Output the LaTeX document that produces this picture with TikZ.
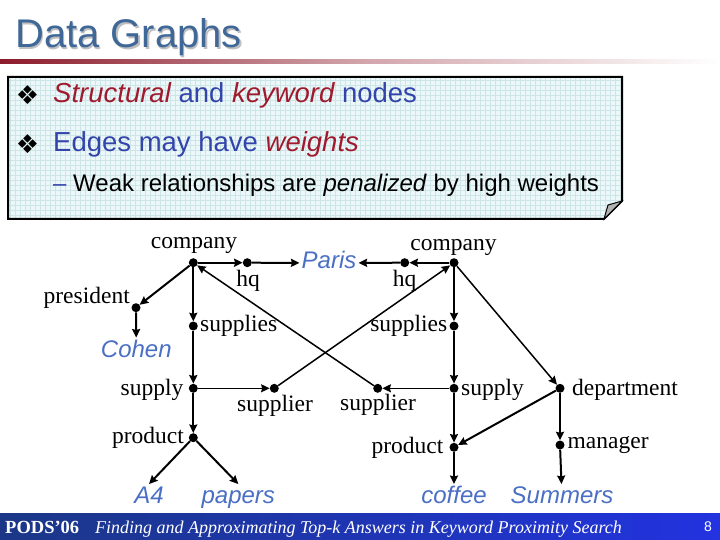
\documentclass[tikz,border=0pt]{standalone}
\usepackage{fontspec}
\setmainfont{Liberation Serif}
\newfontfamily\arialf{Liberation Sans}
\newfontfamily\djv{DejaVu Sans}
\usetikzlibrary{arrows.meta}
\definecolor{titleblue}{HTML}{3F6898}
\definecolor{txtblue}{HTML}{3344AA}
\definecolor{txtred}{HTML}{A01A2E}
\definecolor{kwblue}{HTML}{4A6FC4}
\definecolor{boxfill}{HTML}{EBF7F8}
\definecolor{gridc}{HTML}{CDE5E7}
\definecolor{barL}{HTML}{1B3786}
\definecolor{barR}{HTML}{2233E0}
\definecolor{lineRed}{HTML}{8C1B2B}
\begin{document}
\begin{tikzpicture}[x=1pt,y=-1pt,
  dot/.style={circle,fill=black,inner sep=0pt,minimum size=9pt},
  lab/.style={inner sep=0pt,font=\fontsize{23.5}{26}\selectfont},
  kw/.style={inner sep=2pt,text=kwblue,font=\arialf\itshape\fontsize{24}{28}\selectfont,text height=17.5pt,text depth=6pt},
  edge/.style={line width=2pt,-{Stealth[length=8.5pt,width=8pt,inset=1pt]}},
  thin edge/.style={edge,line width=1.5pt},
  bul/.style={font=\djv\fontsize{26}{26}\selectfont},
  boxtext/.style={anchor=base west,inner sep=0pt,font=\arialf\fontsize{27.5}{30}\selectfont},
]
\useasboundingbox (0,0) rectangle (720,540);
\fill[white] (0,0) rectangle (720,540);

% title
\node[anchor=base west,inner sep=0pt,text=black!25,font=\arialf\fontsize{40}{44}\selectfont] (tshadow) at (16.5,49.5) {Data Graphs};
\node[anchor=base west,inner sep=0pt,text=titleblue,font=\arialf\fontsize{40}{44}\selectfont] (title) at (15,48) {Data Graphs};
\shade[left color=lineRed, right color=white, middle color=lineRed!40] (0,60) rectangle (720,64);

% box
\fill[boxfill] (8,77) -- (622,77) -- (622,201) -- (604,219) -- (8,219) -- cycle;
\begin{scope}
\clip (8,77) -- (622,77) -- (622,201) -- (604,219) -- (8,219) -- cycle;
\draw[gridc,line width=0.4pt] (0,75) grid[step=5pt] (625,220);
\end{scope}
\draw[line width=2pt,line join=miter] (8,77) -- (622,77) -- (622,201) -- (604,219) -- (8,219) -- cycle;
\filldraw[fill=black!30,line width=1pt] (604,219) -- (608,205) -- (622,201) -- cycle;

\node[bul] (b1) at (27.5,95.5) {❖};
\node[boxtext] (t1) at (53,103) {\textcolor{txtred}{\itshape Structural} \textcolor{txtblue}{and} \textcolor{txtred}{\itshape keyword} \textcolor{txtblue}{nodes}};
\node[bul] (b2) at (27.5,144) {❖};
\node[boxtext] (t2) at (53,151.7) {\textcolor{txtblue}{Edges may have} \textcolor{txtred}{\itshape weights}};
\node[boxtext,font=\arialf\fontsize{24}{26}\selectfont] (t3) at (53,192) {\textcolor{txtblue}{–} Weak relationships are \textit{penalized} by high weights};

% graph nodes
\node[dot] (cL) at (193.3,262.7) {};
\node[dot] (hqL) at (247.3,262.7) {};
\node[dot] (hqR) at (404.7,262.7) {};
\node[dot] (cR) at (454,262.7) {};
\node[dot] (pres) at (136,307.7) {};
\node[dot] (spsL) at (193.3,326) {};
\node[dot] (spsR) at (454,326) {};
\node[dot] (spyL) at (193.3,388.3) {};
\node[dot] (suprL) at (274.3,388.3) {};
\node[dot] (suprR) at (377.7,388.3) {};
\node[dot] (spyR) at (454,388.3) {};
\node[dot] (dept) at (560,388.3) {};
\node[dot] (prodL) at (193.3,437.7) {};
\node[dot] (prodR) at (454,447.3) {};
\node[dot] (mgr) at (560,445) {};

% labels
\node[lab,anchor=base] (lcL) at (194,248) {company};
\node[lab,anchor=base] (lcR) at (453.5,250) {company};
\node[lab,anchor=base] (lhqL) at (248,286) {hq};
\node[lab,anchor=base] (lhqR) at (404.5,286) {hq};
\node[lab,anchor=base east] (lpres) at (130,303.3) {president};
\node[lab,anchor=base west] (lspsL) at (200,331.7) {supplies};
\node[lab,anchor=base east] (lspsR) at (447.5,331.7) {supplies};
\node[lab,anchor=base east] (lspyL) at (183.5,395) {supply};
\node[lab,anchor=base west] (lspyR) at (461,395) {supply};
\node[lab,anchor=base] (lsuprL) at (275,411.5) {supplier};
\node[lab,anchor=base] (lsuprR) at (378,410) {supplier};
\node[lab,anchor=base west] (ldept) at (572,395.5) {department};
\node[lab,anchor=base east] (lprodL) at (184,443.3) {product};
\node[lab,anchor=base east] (lprodR) at (443.5,453.3) {product};
\node[lab,anchor=base west] (lmgr) at (567.5,448.5) {manager};

% keywords
\node[kw] (paris) at (329,263) {Paris};
\node[kw] (cohen) at (136.3,351.5) {Cohen};
\node[kw] (a4) at (149,498) {A4};
\node[kw] (papers) at (238.3,498) {papers};
\node[kw] (coffee) at (454,498) {coffee};
\node[kw] (summers) at (562,498) {Summers};

% edges
\draw[edge] (cL) -- (hqL);
\draw[edge] (hqL) -- (paris);
\draw[edge] (cR) -- (hqR);
\draw[edge] (hqR) -- (paris);
\draw[edge] (cL) -- (pres);
\draw[edge] (pres) -- (cohen);
\draw[edge] (cL) -- (spsL);
\draw[edge] (spsL) -- (spyL);
\draw[thin edge] (spyL) -- (suprL);
\draw[edge] (spyL) -- (prodL);
\draw[edge] (prodL) -- (a4.north);
\draw[edge] (prodL) -- (papers.north);
\draw[thin edge] (suprL) -- (cR);
\draw[thin edge] (suprR) -- (cL);
\draw[edge] (cR) -- (spsR);
\draw[edge] (spsR) -- (spyR);
\draw[thin edge] (spyR) -- (suprR);
\draw[edge] (spyR) -- (prodR);
\draw[edge] (prodR) -- (coffee);
\draw[thin edge] (cR) -- (dept);
\draw[edge] (dept) -- (prodR);
\draw[edge] (dept) -- (mgr);
\draw[edge] (mgr) -- (summers);

% footer
\shade[left color=barL, right color=barR] (0,513) rectangle (720,540);
\node[anchor=base west,inner sep=0pt,text=white,font=\bfseries\fontsize{18.5}{20}\selectfont] (pods) at (5,533) {PODS'06};
\node[anchor=base west,inner sep=0pt,text=white,font=\itshape\fontsize{18}{20}\selectfont] (ftitle) at (95,533) {Finding and Approximating Top-k Answers in Keyword Proximity Search};
\node[inner sep=0pt,text=white,font=\arialf\fontsize{14}{14}\selectfont] (pnum) at (708,527) {8};
\end{tikzpicture}
\end{document}
